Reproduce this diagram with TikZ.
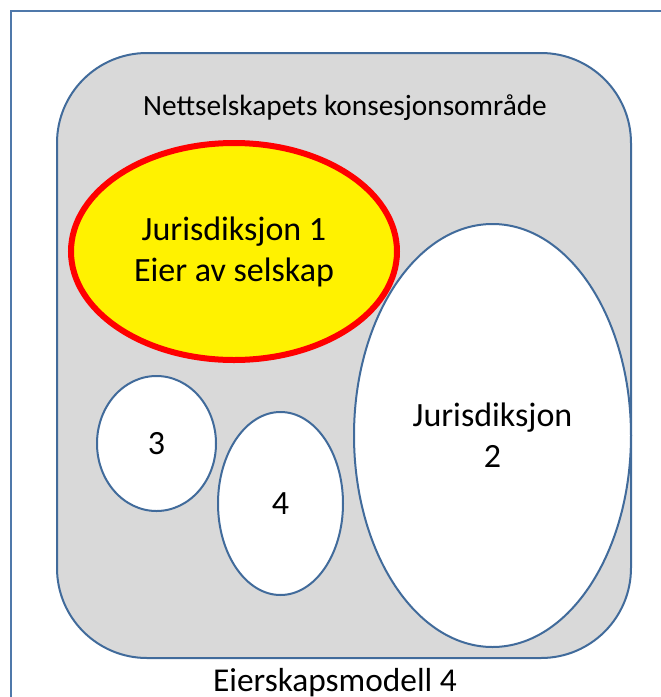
\documentclass[tikz,border=0pt]{standalone}
\usepackage{fontspec}
\setmainfont{Carlito}
\usetikzlibrary{shapes.geometric}

\definecolor{areagray}{RGB}{217,217,217}
\definecolor{edgeblue}{RGB}{65,107,155}
\definecolor{frameblue}{RGB}{79,120,170}

\tikzset{every picture/.style={line width=0.75pt}}
\tikzset{
  jurisdiction/.style={ellipse, draw=edgeblue, fill=white, line width=1.5pt, inner sep=0pt, align=center,
    font=\fontsize{25.5}{30.75}\selectfont},
  owner/.style={ellipse, draw=red, fill=yellow, line width=4.5pt, inner sep=0pt, align=center,
    font=\fontsize{25.5}{30.75}\selectfont}
}

\begin{document}
\begin{tikzpicture}[x=0.75pt,y=0.75pt,yscale=-1,xscale=1]
\useasboundingbox (0,0) rectangle (661,697);

%Frame
\draw [color=frameblue, line width=2pt] (11,697) -- (11,11) -- (661,11) ;

%Shape: Rounded Rect
\draw (344,355.5) node (area) [draw=edgeblue, fill=areagray, line width=1.5pt, rounded corners=67.5pt,
  minimum width=430.5pt, minimum height=453.75pt] {};

% Text Node
\draw (345,108) node (areatitle) [font=\fontsize{22}{26}\selectfont] {Nettselskapets konsesjonsområde};

%Shape: Ellipse
\draw (234,251.5) node (jur1) [owner, minimum width=244.5pt, minimum height=162.75pt] {Jurisdiksjon 1\\Eier av selskap};
%Shape: Ellipse
\draw (492.5,435.5) node (jur2) [jurisdiction, minimum width=207.75pt, minimum height=317.25pt] {Jurisdiksjon\\2};
%Shape: Ellipse
\draw (156.5,443.5) node (jur3) [jurisdiction, minimum width=89.25pt, minimum height=101.25pt] {3};
%Shape: Ellipse
\draw (280.5,503.5) node (jur4) [jurisdiction, minimum width=93.75pt, minimum height=137.25pt] {4};

% Text Node
\draw (335,683) node (model) [font=\fontsize{25}{30}\selectfont] {Eierskapsmodell 4};

\end{tikzpicture}
\end{document}
